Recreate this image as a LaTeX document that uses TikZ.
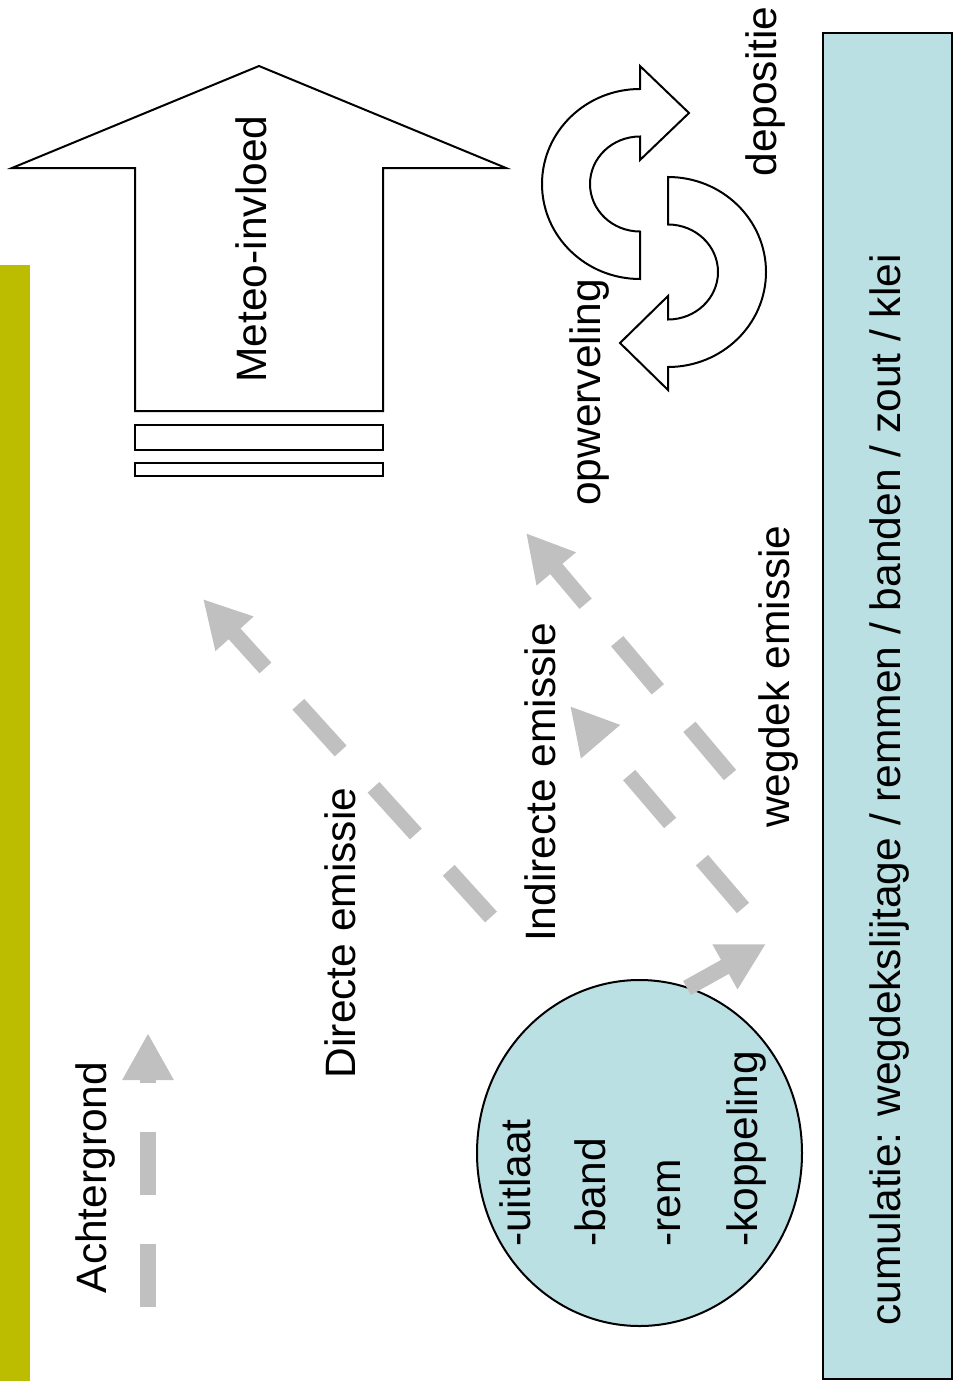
\documentclass[tikz,border=0pt]{standalone}
\usepackage{fontspec}
\setmainfont{Liberation Sans}
\usetikzlibrary{arrows.meta,shapes.geometric}
\definecolor{barolive}{RGB}{188,189,0}
\definecolor{lblue}{RGB}{187,224,228}
\definecolor{agrey}{RGB}{192,192,192}
\begin{document}
\begin{tikzpicture}[x=1pt,y=-1pt,
  lbl/.style={rotate=90, font=\fontsize{42.5}{50}\selectfont, inner sep=0pt, anchor=base},
  garrow/.style={draw=agrey, line width=16pt, dash pattern=on 63pt off 49pt,
                 -{Triangle[length=47pt,width=48pt]}},
  outl/.style={draw=black, line width=2pt, fill=white, line join=miter}]
\useasboundingbox (0,0) rectangle (954,1381);
% olive side bar
\fill[barolive] (0,265) rectangle (30,1381);
% cumulatie box
\node[draw=black, line width=2pt, fill=lblue, minimum width=129pt, minimum height=1346pt,
      inner sep=0pt] (cum) at (887.5,706) {};
% big meteo arrow
\draw[outl] (259,66) -- (506,168) -- (383,168) -- (383,411) -- (135,411) -- (135,168) -- (12,168) -- cycle;
\draw[outl] (135,425) rectangle (383,450);
\draw[outl] (135,463) rectangle (383,476);
% circular arrows
\draw[outl] (640,279) arc[start angle=90, end angle=270, x radius=98, y radius=95]
  -- (640,66) -- (689,113) -- (640,160) -- (640,136.5)
  arc[start angle=270, end angle=90, x radius=50, y radius=47.5] -- cycle;
\draw[outl] (668,177) arc[start angle=270, end angle=450, x radius=98, y radius=95]
  -- (668,390) -- (620,343) -- (668,296) -- (668,319.5)
  arc[start angle=90, end angle=-90, x radius=50, y radius=47.5] -- cycle;
% source ellipse
\node[ellipse, draw=black, line width=2pt, fill=lblue, minimum width=325pt, minimum height=346pt,
      inner sep=0pt] (ell) at (639.5,1153) {};
% grey arrows
\coordinate (bgT) at (148,1307); \coordinate (bgH) at (148,1033);
\coordinate (drT) at (491,917);  \coordinate (drH) at (203,599);
\coordinate (iaT) at (730,775);  \coordinate (iaH) at (526,533);
\coordinate (ibT) at (743,908);  \coordinate (ibH) at (570,706);
\coordinate (elT) at (687,988);  \coordinate (elH) at (766,944);
\draw[garrow] (bgT) -- (bgH);
\draw[garrow] (drT) -- (drH);
\draw[garrow] (iaT) -- (iaH);
\draw[garrow] (ibT) -- (ibH);
\draw[garrow, solid] (elT) -- (elH);
% labels
\node[lbl] (achter) at (106,1177.5) {Achtergrond};
\node[lbl] (meteo) at (266,249) {Meteo-invloed};
\node[lbl] (direct) at (355,933) {Directe emissie};
\node[lbl] (indirect) at (555,782.5) {Indirecte emissie};
\node[lbl] (wegdek) at (789,676.5) {wegdek emissie};
\node[lbl] (opw) at (600,392.5) {opwerveling};
\node[lbl] (depo) at (776,91.5) {depositie};
\node[lbl] (cumtxt) at (900,790) {cumulatie: wegdekslijtage / remmen / banden / zout / klei};
\node[lbl, anchor=base west] (i1) at (530,1247) {-uitlaat};
\node[lbl, anchor=base west] (i2) at (605,1247) {-band};
\node[lbl, anchor=base west] (i3) at (680,1247) {-rem};
\node[lbl, anchor=base west] (i4) at (757,1247) {-koppeling};
\end{tikzpicture}
\end{document}
